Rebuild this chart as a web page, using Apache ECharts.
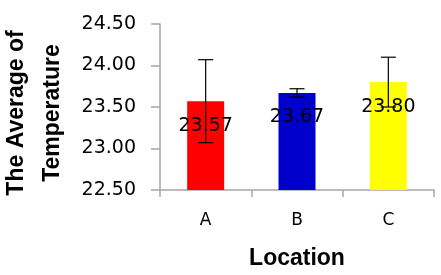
<!DOCTYPE html>
<html>
<head>
<meta charset="utf-8">
<script src="https://cdn.jsdelivr.net/npm/echarts@6/dist/echarts.min.js"></script>
<style>
html,body{margin:0;padding:0;background:#fff;}
#chart{width:441px;height:275px;}
</style>
</head>
<body>
<div id="chart"></div>
<script>
var categories = ['A', 'B', 'C'];
var means = [23.57, 23.67, 23.80];
var errors = [0.50, 0.05, 0.30];
var barColors = ['#ff0000', '#0000cc', '#ffff00'];
var yTicks = [22.5, 23.0, 23.5, 24.0, 24.5];

var chart = echarts.init(document.getElementById('chart'), null, {renderer: 'canvas'});

var barData = means.map(function (v, i) {
  return {value: v, itemStyle: {color: barColors[i]}};
});
var errData = means.map(function (v, i) {
  return [i, v - errors[i], v + errors[i]];
});

var option = {
  animation: false,
  backgroundColor: '#ffffff',
  grid: {left: 160, right: 7, top: 24, bottom: 85, containLabel: false, outerBoundsMode: 'none'},
  xAxis: {
    type: 'category',
    data: categories,
    name: 'Location',
    nameLocation: 'middle',
    nameGap: 57,
    nameTextStyle: {fontFamily: 'Liberation Sans', fontWeight: 'bold', fontSize: 23, color: '#000'},
    axisLine: {lineStyle: {color: '#a6a6a6', width: 1.5}},
    axisTick: {show: true, length: 7, lineStyle: {color: '#a6a6a6', width: 1.5}},
    axisLabel: {margin: 22, fontFamily: 'DejaVu Sans', fontSize: 17, color: '#000'},
    splitLine: {show: false}
  },
  yAxis: {
    type: 'value',
    min: yTicks[0],
    max: yTicks[yTicks.length - 1],
    interval: 0.5,
    name: 'The Average of\nTemperature',
    nameLocation: 'middle',
    nameRotate: 90,
    nameGap: 89,
    nameTextStyle: {fontFamily: 'Liberation Sans', fontWeight: 'bold', fontSize: 23, color: '#000', lineHeight: 36, padding: [0, 12, 0, 0]},
    axisLine: {show: true, lineStyle: {color: '#a6a6a6', width: 1.5}},
    axisTick: {show: true, length: 9, lineStyle: {color: '#a6a6a6', width: 1.5}},
    axisLabel: {margin: 24, fontFamily: 'DejaVu Sans', fontSize: 19, color: '#000',
      formatter: function (v) { return v.toFixed(2); }},
    splitLine: {show: false}
  },
  series: [
    {
      type: 'bar',
      data: barData,
      barWidth: 37,
      label: {
        show: true,
        position: 'insideTop',
        distance: 15,
        fontFamily: 'DejaVu Sans',
        fontSize: 19,
        color: '#000',
        formatter: function (p) { return p.value.toFixed(2); }
      }
    },
    {
      type: 'custom',
      data: errData,
      z: 10,
      renderItem: function (params, api) {
        var x = api.value(0);
        var lo = api.coord([x, api.value(1)]);
        var hi = api.coord([x, api.value(2)]);
        var hw = 7.5;
        var st = {stroke: '#000', lineWidth: 1.2};
        return {
          type: 'group',
          children: [
            {type: 'line', shape: {x1: hi[0], y1: hi[1], x2: lo[0], y2: lo[1]}, style: st},
            {type: 'line', shape: {x1: hi[0] - hw, y1: hi[1], x2: hi[0] + hw, y2: hi[1]}, style: st},
            {type: 'line', shape: {x1: lo[0] - hw, y1: lo[1], x2: lo[0] + hw, y2: lo[1]}, style: st}
          ]
        };
      }
    }
  ]
};
chart.setOption(option);
</script>
</body>
</html>
